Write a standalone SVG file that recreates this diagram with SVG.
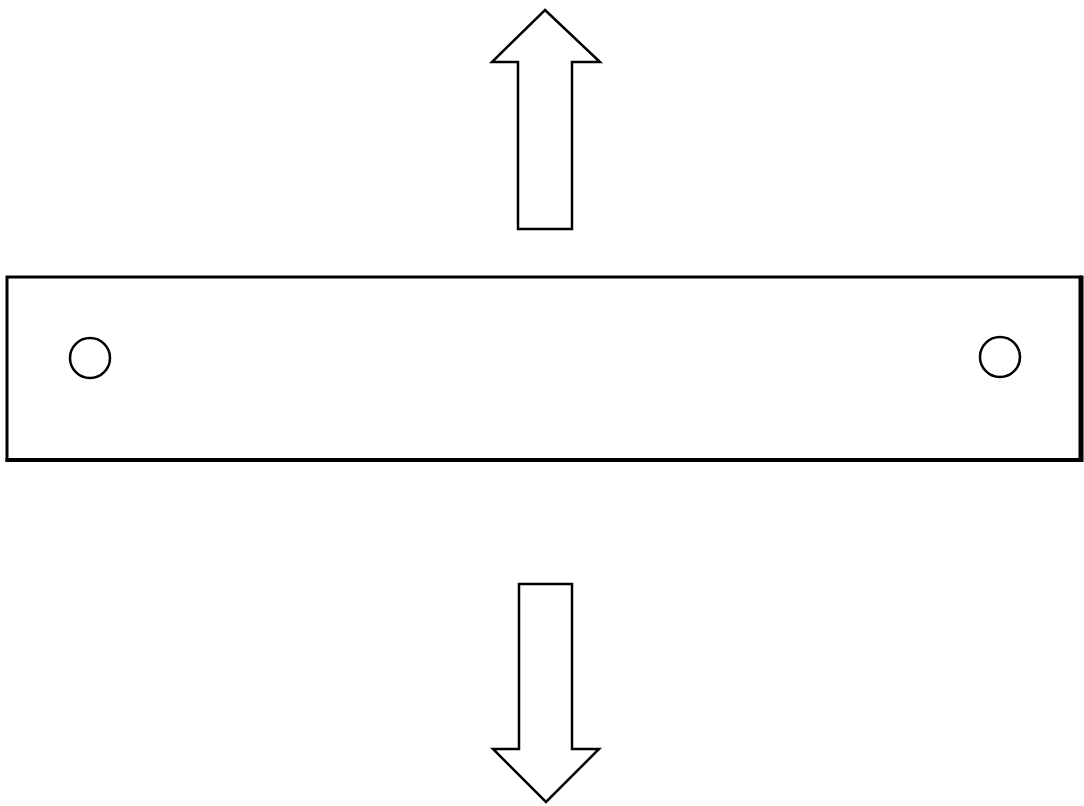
<svg xmlns="http://www.w3.org/2000/svg" width="1084" height="806" viewBox="0 0 1084 806">
<style>
.s{fill:#fff;stroke:#000;stroke-linejoin:miter}
</style>
<rect width="1084" height="806" fill="#fff"/>
<g id="plate">
<path class="s" d="M7,277 H1080 V460 H7 Z" stroke-width="3"/>
<path d="M5.5,460 H1081.5 V275.5" fill="none" stroke="#000" stroke-width="4"/>
<circle id="hole-left" class="s" cx="90" cy="358" r="20" stroke-width="2.5"/>
<circle id="hole-right" class="s" cx="1000" cy="357" r="20" stroke-width="2.5"/>
</g>
<g id="connectors">
<polygon id="arrow-up" class="s" stroke-width="2.5" points="545,10 600,62 572,62 572,229 518,229 518,62 492,62"/>
<polygon id="arrow-down" class="s" stroke-width="2.5" points="519,584 572,584 572,749 599,749 546,802 493,749 519,749"/>
</g>
</svg>
